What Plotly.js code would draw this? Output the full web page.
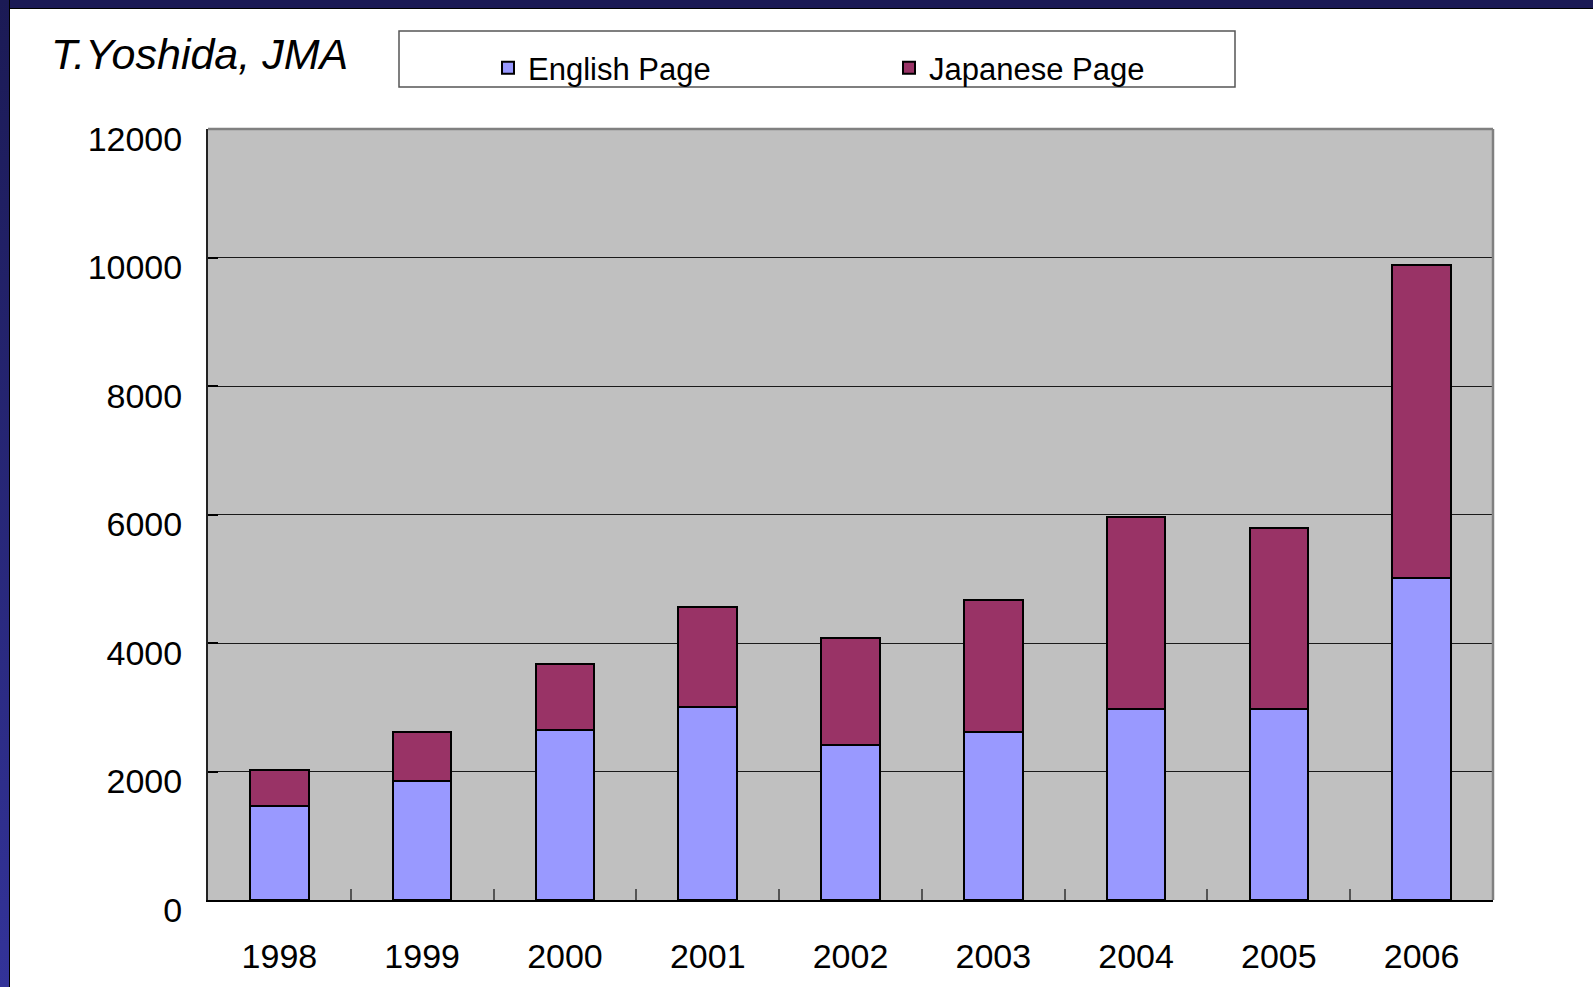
<!DOCTYPE html>
<html>
<head>
<meta charset="utf-8">
<script src="https://cdn.plot.ly/plotly-3.0.1.min.js"></script>
<style>
  html, body { margin: 0; padding: 0; background: #fff; overflow: hidden; }
  #chart { position: absolute; left: 0; top: 0; width: 1593px; height: 987px; }
  /* slide frame: dark band across the top, shaded band down the left */
  #frameTop { position: absolute; left: 0; top: 0; width: 1593px; height: 8px;
              background: #1b1a55; border-bottom: 1px solid #000; z-index: 5; pointer-events: none; }
  #frameLeft { position: absolute; left: 0; top: 0; width: 9px; height: 987px;
               background: linear-gradient(to bottom, #1b1a55, #333399);
               border-right: 1px solid #000; z-index: 5; pointer-events: none; }
</style>
</head>
<body>
<div id="chart"></div>
<div id="frameTop"></div>
<div id="frameLeft"></div>
<script>
// Yearly page counts, stacked by language
const years    = ['1998', '1999', '2000', '2001', '2002', '2003', '2004', '2005', '2006'];
const english  = [1470, 1860, 2640, 3000, 2410, 2610, 2970, 2970, 5010];
const japanese = [550, 760, 1040, 1560, 1670, 2060, 2990, 2820, 4880];
const yTicks   = [0, 2000, 4000, 6000, 8000, 10000, 12000];

const W = 1593, H = 987;
const M = { l: 208, r: 100, t: 129, b: 87 };
const plotW = W - M.l - M.r, plotH = H - M.t - M.b;
// pixel position -> paper fraction of the plotting area
const px = x => (x - M.l) / plotW;
const py = y => (H - M.b - y) / plotH;

const FONT = 'Liberation Sans, Arial, Helvetica, sans-serif';

const traces = [
  {
    type: 'bar', name: 'English Page', x: years, y: english,
    marker: { color: '#9999ff', line: { color: '#000', width: 2 } },
    hoverinfo: 'x+y+name'
  },
  {
    type: 'bar', name: 'Japanese Page', x: years, y: japanese,
    marker: { color: '#993366', line: { color: '#000', width: 2 } },
    hoverinfo: 'x+y+name'
  }
];

const layout = {
  width: W, height: H,
  margin: { l: M.l, r: M.r, t: M.t, b: M.b, pad: 0 },
  paper_bgcolor: '#ffffff',
  plot_bgcolor: '#c0c0c0',
  font: { family: FONT, color: '#000', size: 34 },
  barmode: 'stack',
  bargap: 0.59,
  showlegend: true,
  title: {
    text: 'T.Yoshida, JMA',
    font: { family: FONT, size: 43, style: 'italic', color: '#000' },
    xref: 'container', yref: 'container',
    x: 51 / W, xanchor: 'left',
    y: 1 - 54 / H, yanchor: 'middle'
  },
  legend: {
    orientation: 'h',
    xref: 'container', yref: 'container',
    x: 488 / W, xanchor: 'left',
    y: 1 - 68 / H, yanchor: 'middle',
    font: { family: FONT, size: 31, color: '#000' },
    entrywidth: 356,
    bgcolor: 'rgba(0,0,0,0)',
    borderwidth: 0,
    traceorder: 'normal'
  },
  xaxis: {
    type: 'category',
    categoryarray: years,
    showgrid: false,
    showline: true, linecolor: '#000', linewidth: 2,
    ticks: 'inside', tickson: 'boundaries', ticklen: 11, tickwidth: 2, tickcolor: '#555',
    ticklabelstandoff: 25,
    tickfont: { family: FONT, size: 34, color: '#000' },
    fixedrange: true
  },
  yaxis: {
    range: [0, 12000],
    tickmode: 'array', tickvals: yTicks, ticktext: yTicks.map(String),
    showgrid: true, gridcolor: '#1a1a1a', gridwidth: 1,
    zeroline: false,
    showline: true, linecolor: '#222', linewidth: 2,
    ticks: 'inside', ticklen: 10, tickwidth: 2, tickcolor: '#000',
    ticklabelstandoff: 17,
    ticklabelshift: 10,
    tickfont: { family: FONT, size: 34, color: '#000' },
    fixedrange: true
  },
  shapes: [
    // grey top and right edges of the plotting area
    { type: 'line', xref: 'paper', yref: 'paper', x0: 0, x1: 1, y0: 1, y1: 1,
      line: { color: '#808080', width: 2.5 }, layer: 'above' },
    { type: 'line', xref: 'paper', yref: 'paper', x0: 1, x1: 1, y0: 0, y1: 1,
      line: { color: '#808080', width: 2.5 }, layer: 'above' },
    // framed box around the legend
    { type: 'rect', xref: 'paper', yref: 'paper',
      x0: px(399), x1: px(1235), y0: py(87), y1: py(31),
      line: { color: '#555', width: 1.5 }, fillcolor: 'rgba(0,0,0,0)', layer: 'above' }
  ]
};

Plotly.newPlot('chart', traces, layout, { displayModeBar: false, staticPlot: true });
</script>
</body>
</html>
